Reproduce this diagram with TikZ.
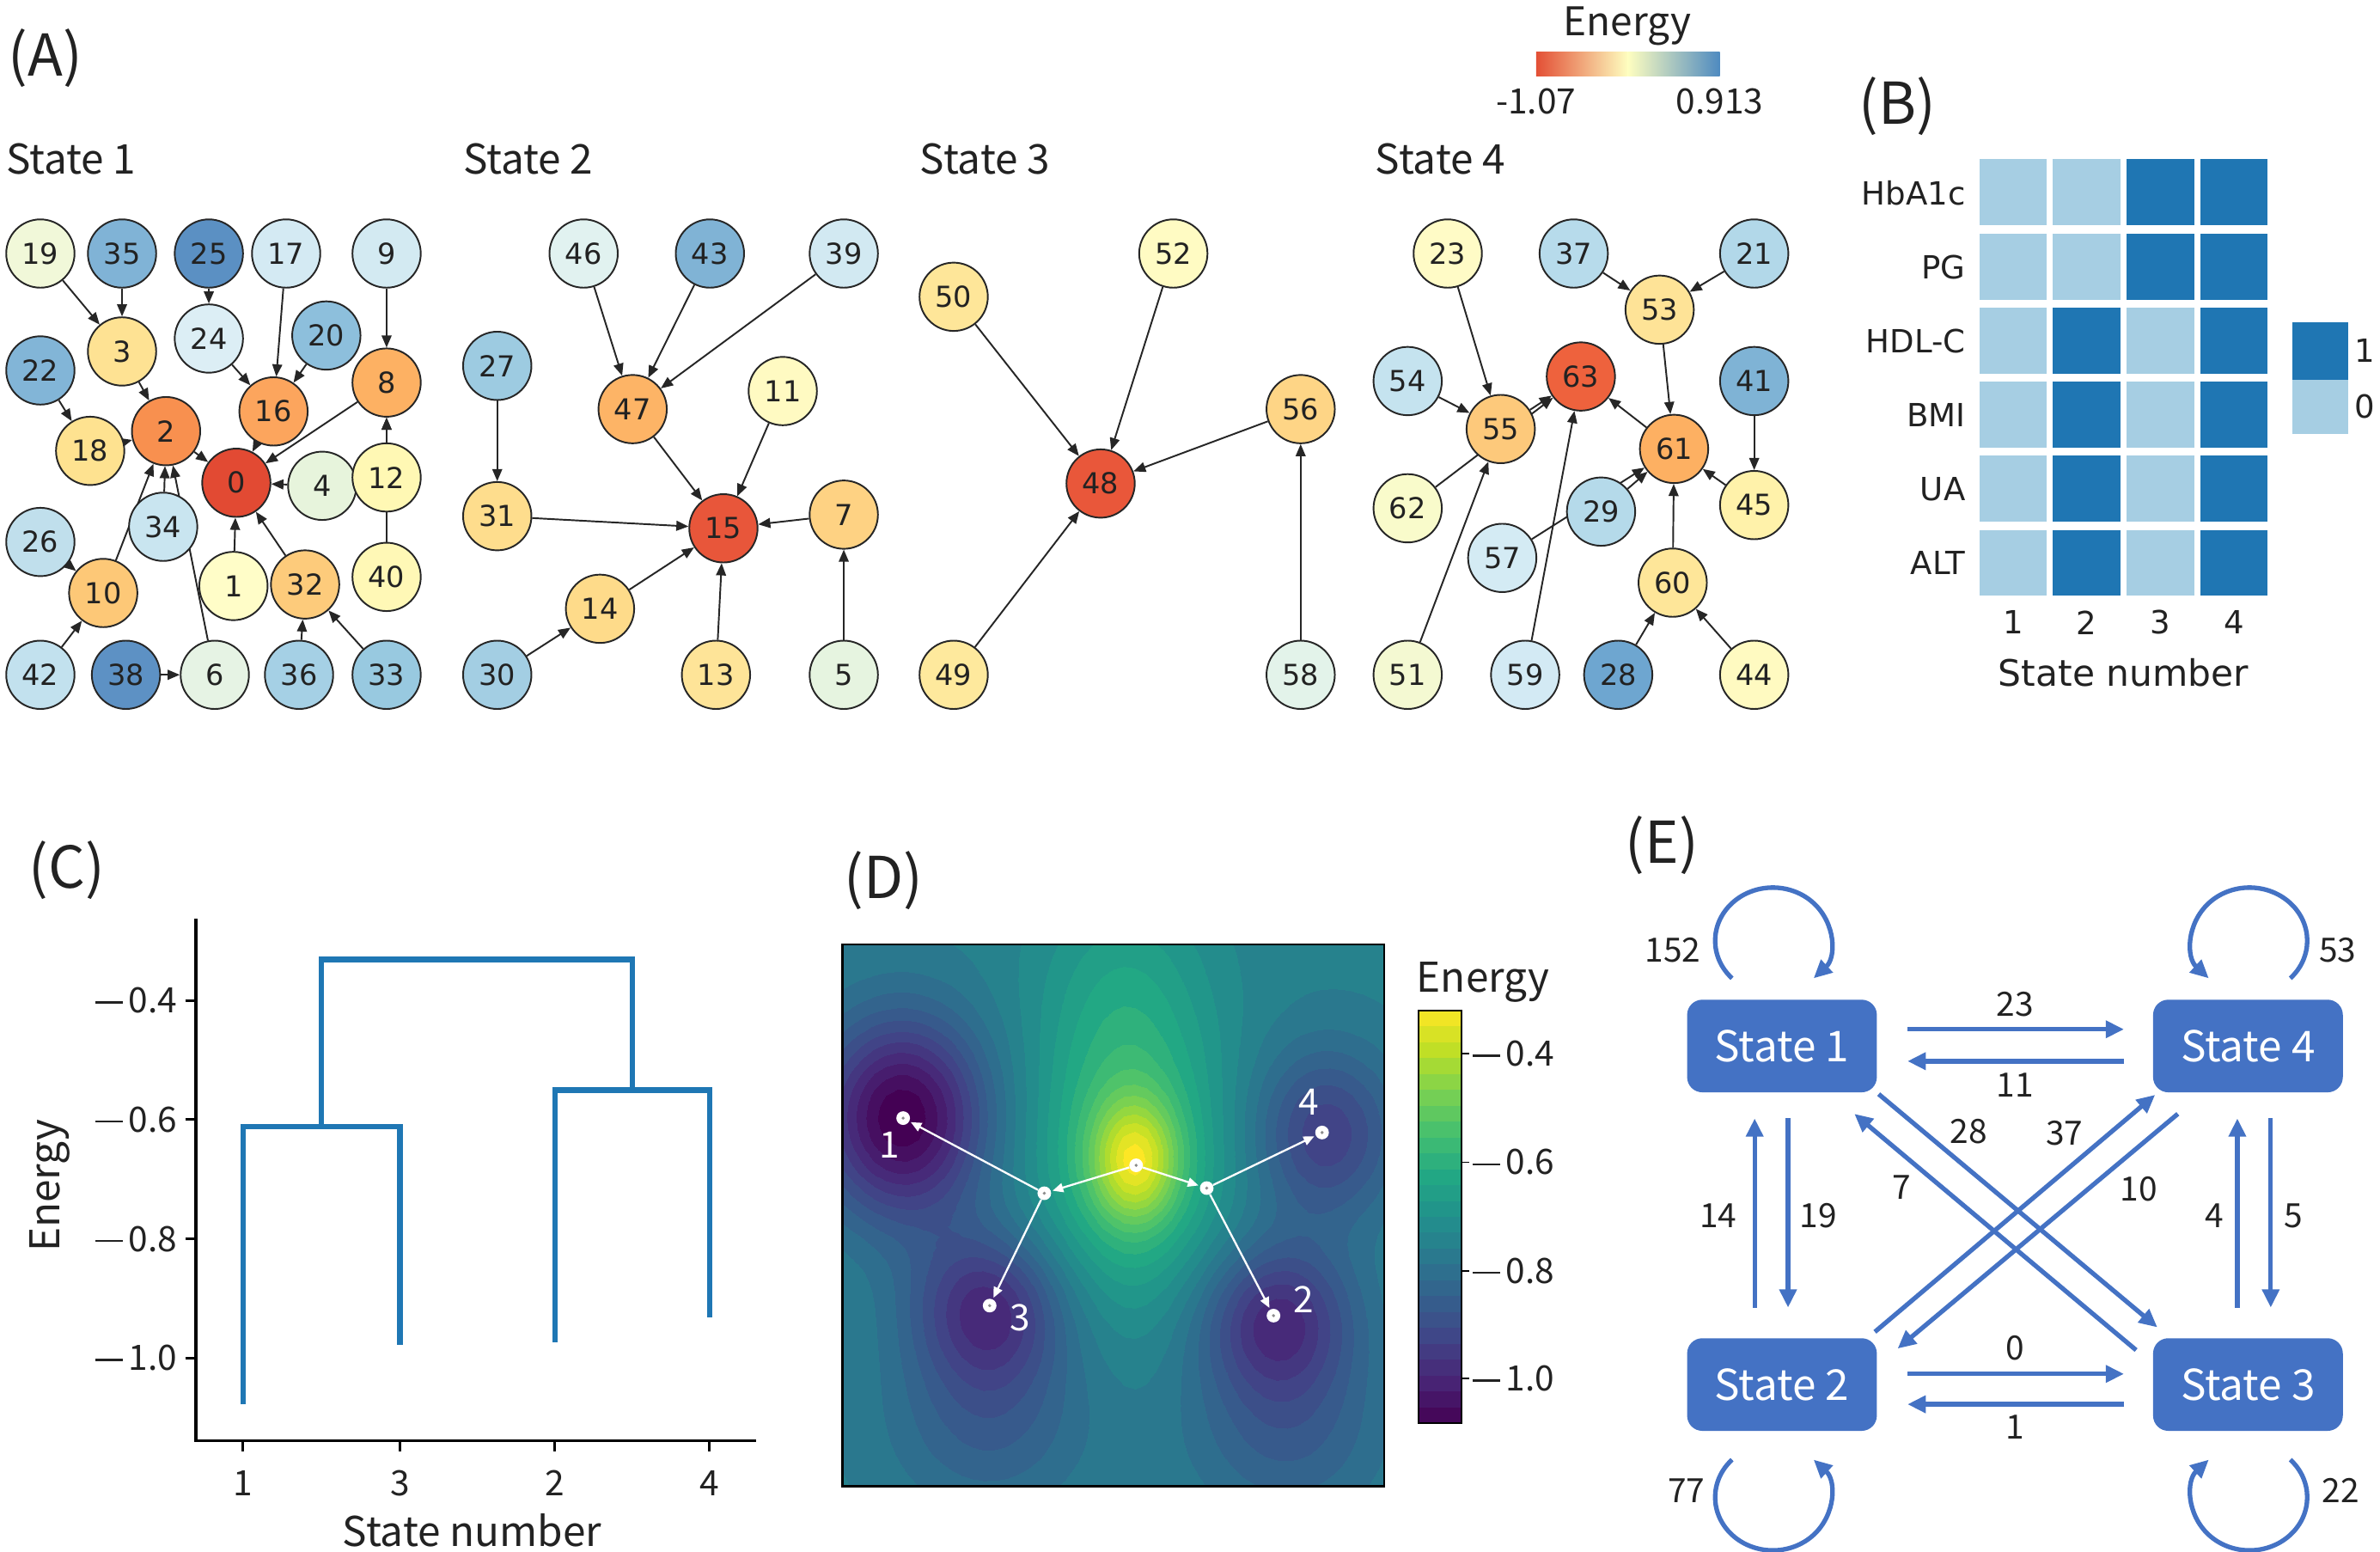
\documentclass[tikz,border=0pt]{standalone}
\usepackage{fontspec}
\setmainfont{Noto Sans CJK JP}
\newfontfamily\dvfont{DejaVu Sans}
\usepackage{pgfplots}
\pgfplotsset{compat=1.18}
\usetikzlibrary{arrows.meta,calc,backgrounds}

\definecolor{eblue}{HTML}{4472C4}
\definecolor{dblue}{HTML}{1F77B4}
\definecolor{hdark}{HTML}{1F76B3}
\definecolor{hlight}{HTML}{A6CEE3}
\definecolor{txt}{HTML}{222222}
\definecolor{vir0}{HTML}{440154}
\definecolor{vir1}{HTML}{482475}
\definecolor{vir2}{HTML}{414487}
\definecolor{vir3}{HTML}{355F8D}
\definecolor{vir4}{HTML}{2A788E}
\definecolor{vir5}{HTML}{21918C}
\definecolor{vir6}{HTML}{22A884}
\definecolor{vir7}{HTML}{44BF70}
\definecolor{vir8}{HTML}{7AD151}
\definecolor{vir9}{HTML}{BDDF26}
\definecolor{vir10}{HTML}{FDE725}
\definecolor{cbR}{HTML}{E34F35}
\definecolor{cbO}{HTML}{FDAE61}
\definecolor{cbY}{HTML}{FEFEC0}
\definecolor{cbL}{HTML}{B3DBEA}
\definecolor{cbB}{HTML}{4E8AC0}

\newcommand\fsz[1]{\fontsize{#1}{#1}\selectfont}
\newcommand\mns{\rule[0.27em]{0.78em}{0.06em}\hspace{0.17em}}
\newcommand\netnode[4]{\definecolor{nc#1}{HTML}{#4}\node[nd,fill=nc#1] (n#1) at (#2,#3) {#1};}

\tikzset{
  nd/.style={circle,draw=black!85,line width=1.1pt,minimum size=45pt,inner sep=0pt,font=\dvfont\fsz{19},text=txt},
  ed/.style={-{Triangle[length=8pt,width=6.5pt]},line width=1.1pt,draw=black!85},
  plab/.style={font=\fsz{38},text=txt,inner sep=0pt},
  stitle/.style={font=\fsz{27},text=txt,inner sep=0pt,anchor=west},
  blab/.style={font=\dvfont\fsz{21},text=txt,inner sep=0pt},
  clab/.style={font=\fsz{23},text=txt,inner sep=0pt},
  sbox/.style={rounded corners=10pt,fill=eblue,text=white,minimum width=125pt,minimum height=61pt,inner sep=0pt,font=\fsz{28}},
  eline/.style={draw=eblue,line width=3pt,-{Triangle[length=12pt,width=11pt]}},
  elab/.style={font=\fsz{22},text=txt,inner sep=0pt},
  dendro/.style={draw=dblue,line width=3.5pt},
  ddot/.style={circle,fill=white,inner sep=0pt,minimum size=9pt},
  darr/.style={draw=white,line width=1.3pt,-{Triangle[length=7pt,width=6pt]},shorten >=1pt},
  dlab/.style={font=\fsz{24},text=white,inner sep=0pt}
}

\begin{document}
\begin{tikzpicture}[x=1pt,y=-1pt]
\useasboundingbox (0,0) rectangle (1568,1022);
\begin{pgfonlayer}{background}
\fill[white] (0,0) rectangle (1568,1022);
\end{pgfonlayer}

% ---------- panel labels ----------
\node[plab] (labA) at (30,38) {(A)};
\node[plab] (labB) at (1250,70) {(B)};
\node[plab] (labC) at (44,573) {(C)};
\node[plab] (labD) at (582,580) {(D)};
\node[plab] (labE) at (1095,557) {(E)};

% ---------- panel A titles ----------
\node[stitle] (tA1) at (4,105) {State 1};
\node[stitle] (tA2) at (305,105) {State 2};
\node[stitle] (tA3) at (606,105) {State 3};
\node[stitle] (tA4) at (906,105) {State 4};

% ---------- colorbar A ----------
\node[font=\fsz{26},text=txt,inner sep=0pt] (cbAt) at (1072,17) {Energy};
\shade[left color=cbR,middle color=cbO,right color=cbY] (1012,34) rectangle (1072.5,50);
\shade[left color=cbY,middle color=cbL,right color=cbB] (1072.5,34) rectangle (1133,50);
\node[font=\fsz{23},text=txt,inner sep=0pt] (cbAl) at (1012,67) {-1.07};
\node[font=\fsz{23},text=txt,inner sep=0pt] (cbAr) at (1133,67) {0.913};

% ---------- State 1 ----------
\netnode{19}{26.6}{167}{F1F8D9}
\netnode{35}{80.4}{167}{80B3D6}
\netnode{25}{137.6}{167}{5B90C3}
\netnode{17}{188.5}{167}{D4EAF3}
\netnode{9}{254.7}{167}{D3EAF2}
\netnode{3}{80.4}{231.5}{FEE293}
\netnode{24}{137.6}{223}{DCEEF5}
\netnode{20}{215}{221}{8DBFDC}
\netnode{22}{26.6}{244}{82B5D7}
\netnode{8}{254.7}{252}{FDB163}
\netnode{16}{180.2}{271}{FCA55D}
\netnode{2}{109.4}{284}{F8904F}
\netnode{18}{59.4}{297}{FEE290}
\netnode{0}{155.7}{318}{E24A33}
\netnode{4}{212.3}{320}{E7F4DC}
\netnode{12}{254.7}{314.5}{FFF8B4}
\netnode{34}{107.5}{347}{C9E5F0}
\netnode{26}{26.6}{357}{C0DFEC}
\netnode{10}{68}{390.6}{FDC877}
\netnode{1}{153.8}{386}{FFFDC8}
\netnode{32}{201}{385}{FDCB7B}
\netnode{40}{254.7}{380}{FFF8B6}
\netnode{42}{26.6}{444.5}{C2E1EE}
\netnode{38}{83}{444.5}{5D91C4}
\netnode{6}{141.5}{444.5}{E6F3E4}
\netnode{36}{197}{444.5}{A5D0E5}
\netnode{33}{254.7}{444.5}{98C9E0}

% ---------- State 2 ----------
\netnode{46}{384.5}{167}{E1F2F0}
\netnode{43}{467.7}{167}{80B3D5}
\netnode{39}{555.9}{167}{D2E9F2}
\netnode{27}{327.6}{241}{9DCBE1}
\netnode{47}{416.8}{269.5}{FDB466}
\netnode{11}{515.7}{257.6}{FFFAC2}
\netnode{31}{327.6}{340}{FEDD8D}
\netnode{15}{476.6}{348}{E8563A}
\netnode{7}{555.9}{339}{FED283}
\netnode{14}{395.3}{401}{FEDB8A}
\netnode{30}{327.6}{444.5}{A3CEE3}
\netnode{13}{471.7}{444.5}{FEE498}
\netnode{5}{555.9}{444.5}{E6F4E0}

% ---------- State 3 ----------
\netnode{50}{628.3}{195.5}{FEE699}
\netnode{52}{773}{167}{FFFBC3}
\netnode{56}{856.9}{269.5}{FED586}
\netnode{48}{725.1}{318.5}{E9573A}
\netnode{49}{628.3}{444.5}{FEE99D}
\netnode{58}{856.9}{444.5}{E3F3EA}

% ---------- State 4 ----------
\netnode{23}{953.8}{167}{FFFBC6}
\netnode{37}{1036.8}{167}{B7DBEB}
\netnode{21}{1155.7}{167}{B2D8E9}
\netnode{53}{1093.4}{204}{FEE397}
\netnode{54}{927.4}{251}{C5E3EF}
\netnode{63}{1041.5}{248}{EE623D}
\netnode{41}{1155.7}{251}{7FB3D5}
\netnode{55}{988.7}{282.6}{FDC97B}
\netnode{61}{1102.9}{295.7}{FDB062}
\netnode{45}{1155.7}{332.7}{FFF2AA}
\netnode{62}{927.4}{334.8}{F9FBCB}
\netnode{29}{1054.8}{337}{B5DAEA}
\netnode{57}{989.7}{367.5}{D4EBF4}
\netnode{60}{1102}{383.8}{FEE699}
\netnode{51}{927.4}{444.5}{F4F9D2}
\netnode{59}{1004.8}{444.5}{D3EAF4}
\netnode{28}{1066.1}{444.5}{6EA6D0}
\netnode{44}{1155.7}{444.5}{FFFAC1}

\begin{pgfonlayer}{background}
% State 1 edges
\draw[ed] (n19) -- (n3);
\draw[ed] (n35) -- (n3);
\draw[ed] (n25) -- (n24);
\draw[ed] (n24) -- (n16);
\draw[ed] (n17) -- (n16);
\draw[ed] (n20) -- (n16);
\draw[ed] (n9) -- (n8);
\draw[ed] (n22) -- (n18);
\draw[ed] (n3) -- (n2);
\draw[ed] (n18) -- (n2);
\draw[ed] (n16) -- (n0);
\draw[ed] (n8) -- (n0);
\draw[ed] (n2) -- (n0);
\draw[ed] (n4) -- (n0);
\draw[ed] (n12) -- (n8);
\draw[ed] (n40) -- (n8);
\draw[ed] (n1) -- (n0);
\draw[ed] (n32) -- (n0);
\draw[ed] (n36) -- (n32);
\draw[ed] (n33) -- (n32);
\draw[ed] (n26) -- (n10);
\draw[ed] (n42) -- (n10);
\draw[ed] (n10) -- (n2);
\draw[ed] (n34) -- (n2);
\draw[ed] (n6) -- (n2);
\draw[ed] (n38) -- (n6);
% State 2 edges
\draw[ed] (n46) -- (n47);
\draw[ed] (n43) -- (n47);
\draw[ed] (n39) -- (n47);
\draw[ed] (n27) -- (n31);
\draw[ed] (n47) -- (n15);
\draw[ed] (n11) -- (n15);
\draw[ed] (n31) -- (n15);
\draw[ed] (n7) -- (n15);
\draw[ed] (n14) -- (n15);
\draw[ed] (n30) -- (n14);
\draw[ed] (n13) -- (n15);
\draw[ed] (n5) -- (n7);
% State 3 edges
\draw[ed] (n50) -- (n48);
\draw[ed] (n52) -- (n48);
\draw[ed] (n56) -- (n48);
\draw[ed] (n49) -- (n48);
\draw[ed] (n58) -- (n56);
% State 4 edges
\draw[ed] (n23) -- (n55);
\draw[ed] (n54) -- (n55);
\draw[ed] (n62) -- (n63);
\draw[ed] (n55) -- (n63);
\draw[ed] (n51) -- (n55);
\draw[ed] (n59) -- (n63);
\draw[ed] (n37) -- (n53);
\draw[ed] (n21) -- (n53);
\draw[ed] (n53) -- (n61);
\draw[ed] (n61) -- (n63);
\draw[ed] (n41) -- (n45);
\draw[ed] (n45) -- (n61);
\draw[ed] (n29) -- (n61);
\draw[ed] (n57) -- (n61);
\draw[ed] (n60) -- (n61);
\draw[ed] (n28) -- (n60);
\draw[ed] (n44) -- (n60);
\end{pgfonlayer}

% ---------- Panel B ----------
\foreach \i in {0,...,5}{
  \foreach \j in {0,...,3}{
    \fill[hlight] ({1304+48.5*\j},{105+48.8*\i}) rectangle ++(44.5,43.5);
  }
}
\foreach \i/\j in {0/2,0/3,1/2,1/3,2/1,2/3,3/1,3/3,4/1,4/3,5/1,5/3}{
  \fill[hdark] ({1304+48.5*\j},{105+48.8*\i}) rectangle ++(44.5,43.5);
}
\foreach \i/\lab in {0/HbA1c,1/PG,2/HDL-C,3/BMI,4/UA,5/ALT}{
  \node[blab,anchor=east] (brow\i) at (1295,{127+48.8*\i}) {\lab};
}
\foreach \j in {1,...,4}{
  \node[blab] (bcol\j) at ({1326.2+48.5*(\j-1)},410) {\j};
}
\node[font=\dvfont\fsz{24},text=txt,inner sep=0pt] (bxl) at (1399,443) {State number};
\fill[hdark] (1510,212) rectangle (1547,250);
\fill[hlight] (1510,250) rectangle (1547,286);
\node[blab] (bleg1) at (1558,231) {1};
\node[blab] (bleg0) at (1558,268) {0};

% ---------- Panel C ----------
\draw[line width=2.2pt,line cap=rect] (129,606) -- (129,949) -- (497,949);
\foreach \yy/\lab in {659/0.4,737.5/0.6,816/0.8,894.5/1.0}{
  \draw[line width=1.8pt] (122,\yy) -- (129,\yy);
  \node[clab,anchor=east] at (117,\yy) {\mns\lab};
}
\foreach \xx/\lab in {160/1,263.5/3,365.5/2,467.5/4}{
  \draw[line width=1.8pt] (\xx,949) -- (\xx,956);
  \node[clab] at (\xx,977) {\lab};
}
\node[font=\fsz{27},text=txt,inner sep=0pt] (cxl) at (311,1008) {State number};
\node[font=\fsz{27},text=txt,inner sep=0pt,rotate=90] (cyl) at (33,781) {Energy};
\draw[dendro] (160,925) -- (160,742) -- (263.5,742) -- (263.5,886);
\draw[dendro] (365.5,884) -- (365.5,718) -- (467.5,718) -- (467.5,868);
\draw[dendro] (211.5,742) -- (211.5,632) -- (416.5,632) -- (416.5,718);

% ---------- Panel D ----------
\begin{scope}[x=1cm,y=1cm]
\begin{axis}[at={(555pt,-979pt)},anchor=south west,width=357pt,height=357pt,
  scale only axis,hide axis,view={0}{90},xmin=0,xmax=1,ymin=0,ymax=1,
  colormap={vir}{rgb255=(68,1,84) rgb255=(72,36,117) rgb255=(65,68,135) rgb255=(53,95,141) rgb255=(42,120,142) rgb255=(33,145,140) rgb255=(34,168,132) rgb255=(68,191,112) rgb255=(122,209,81) rgb255=(189,223,38) rgb255=(253,231,37)},
  point meta min=-1.082,point meta max=-0.32]
\addplot3[contour filled={number=26},domain=0:1,y domain=0:1,samples=51]
 {-0.75 + 0.22*exp(-((x-0.54)^2/0.006+(y-0.60)^2/0.012))
  + 0.19*exp(-((x-0.53)^2/0.03+(y-0.60)^2/0.07))
  + 0.08*exp(-((x-0.52)^2/0.025+(y-0.92)^2/0.05))
  - 0.33*exp(-((x-0.11)^2/0.024+(y-0.68)^2/0.034))
  - 0.22*exp(-((x-0.27)^2/0.02+(y-0.33)^2/0.02))
  - 0.10*exp(-((x-0.27)^2/0.035+(y-0.12)^2/0.03))
  - 0.22*exp(-((x-0.80)^2/0.02+(y-0.31)^2/0.02))
  - 0.10*exp(-((x-0.82)^2/0.035+(y-0.10)^2/0.03))
  - 0.18*exp(-((x-0.89)^2/0.018+(y-0.65)^2/0.025))};
\end{axis}
\end{scope}
\draw[line width=1.2pt] (555,622) rectangle (912,979);

\node[ddot] (dc) at (748.5,767.6) {};
\node[ddot] (dl) at (688,786) {};
\node[ddot] (dr) at (795,782.6) {};
\node[ddot] (d1) at (595,736.5) {};
\node[ddot] (d3) at (652,860) {};
\node[ddot] (d2) at (839,866.6) {};
\node[ddot] (d4) at (871,746) {};
\foreach \p in {dc,dl,dr,d1,d2,d3,d4}{\fill[black!45] (\p.center) circle[radius=1.1pt];}
\draw[darr] (dc) -- (dl);
\draw[darr] (dc) -- (dr);
\draw[darr] (dl) -- (d1);
\draw[darr] (dl) -- (d3);
\draw[darr] (dr) -- (d4);
\draw[darr] (dr) -- (d2);
\node[dlab] (dl1) at (586,754) {1};
\node[dlab] (dl4) at (862,726) {4};
\node[dlab] (dl3) at (672,868) {3};
\node[dlab] (dl2) at (859,856) {2};

% colorbar D
\foreach \i in {0,...,25}{
  \pgfmathsetmacro{\tv}{(\i+0.5)/26*10}
  \pgfmathtruncatemacro{\kl}{floor(\tv)}
  \pgfmathtruncatemacro{\ku}{\kl+1}
  \pgfmathtruncatemacro{\pp}{round((\tv-\kl)*100)}
  \colorlet{cbtmp}{vir\ku!\pp!vir\kl}
  \fill[cbtmp] (934.5,{937.4-(\i+1)*10.45}) rectangle (963,{937.4-\i*10.45});
}
\draw[line width=0.9pt] (934.5,665.7) rectangle (963,937.4);
\foreach \yy/\lab in {694/0.4,765.6/0.6,837/0.8,908/1.0}{
  \draw[line width=1pt] (963,\yy) -- (968,\yy);
  \node[clab,anchor=west] at (970,\yy) {\mns\lab};
}
\node[font=\fsz{27},text=txt,inner sep=0pt] (dcbt) at (977,647) {Energy};

% ---------- Panel E ----------
\node[sbox] (s1) at (1174,689) {State 1};
\node[sbox] (s4) at (1481,689) {State 4};
\node[sbox] (s2) at (1174,912) {State 2};
\node[sbox] (s3) at (1481,912) {State 3};

\draw[eline] ($(s1.east)+(20,-11)$) -- ($(s4.west)+(-19,-11)$);
\draw[eline] ($(s4.west)+(-19,10)$) -- ($(s1.east)+(20,10)$);
\draw[eline] ($(s2.east)+(20,-7)$) -- ($(s3.west)+(-19,-7)$);
\draw[eline] ($(s3.west)+(-19,13)$) -- ($(s2.east)+(20,13)$);
\draw[eline] ($(s1.south)+(4,17)$) -- ($(s2.north)+(4,-20)$);
\draw[eline] ($(s2.north)+(-18,-20)$) -- ($(s1.south)+(-18,17)$);
\draw[eline] ($(s3.north)+(-7,-20)$) -- ($(s4.south)+(-7,17)$);
\draw[eline] ($(s4.south)+(15,17)$) -- ($(s3.north)+(15,-20)$);
\draw[eline] ($(s1.south east)+(1,1)$) -- ($(s3.north west)+(3,-7)$);
\draw[eline] ($(s3.north west)+(-11,8)$) -- ($(s1.south east)+(-15,14)$);
\draw[eline] ($(s2.north east)+(-1.5,-4)$) -- ($(s4.south west)+(1.5,1.5)$);
\draw[eline] ($(s4.south west)+(16.5,14)$) -- ($(s2.north east)+(13.5,7)$);
% self loops
\draw[eline] ($(s1.north)+(-32.9,-13.9)$) arc[start angle=225,end angle=-45,x radius=38pt,y radius=35pt];
\draw[eline] ($(s4.north)+(27.9,-13.9)$) arc[start angle=-45,end angle=225,x radius=38pt,y radius=35pt];
\draw[eline] ($(s2.south)+(-32.9,18.8)$) arc[start angle=135,end angle=405,x radius=38pt,y radius=35pt];
\draw[eline] ($(s3.south)+(27.9,18.8)$) arc[start angle=45,end angle=-225,x radius=38pt,y radius=35pt];

\node[elab] (e23) at (1327.5,661.5) {23};
\node[elab] (e11) at (1327.5,714.8) {11};
\node[elab] (e0) at (1327.5,888) {0};
\node[elab] (e1) at (1327.5,940) {1};
\node[elab] (e19) at (1198,801) {19};
\node[elab] (e14) at (1132,801) {14};
\node[elab] (e5) at (1511,801) {5};
\node[elab] (e4) at (1459,801) {4};
\node[elab] (e28) at (1297,745.5) {28};
\node[elab] (e37) at (1360,746.5) {37};
\node[elab] (e7) at (1253,782) {7};
\node[elab] (e10) at (1409,783) {10};
\node[elab] (e152) at (1102,626) {152};
\node[elab] (e53) at (1540,626) {53};
\node[elab] (e77) at (1111,982) {77};
\node[elab] (e22) at (1542,982) {22};
\end{tikzpicture}
\end{document}
